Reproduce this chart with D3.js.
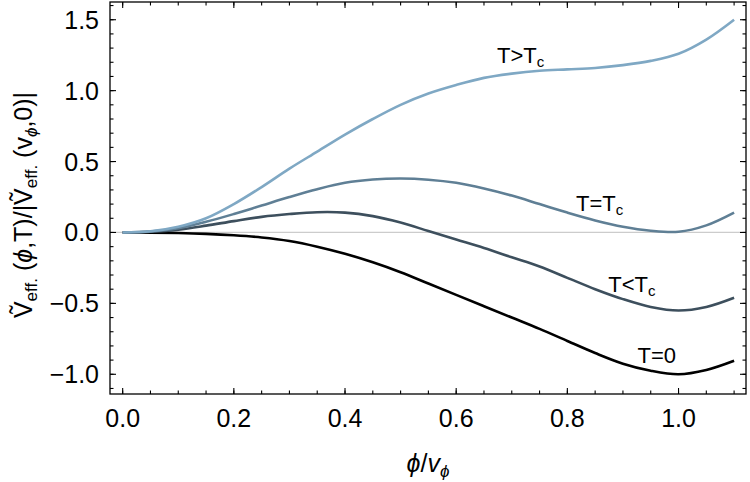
<!DOCTYPE html>
<html>
<head>
<meta charset="utf-8">
<script src="https://cdn.jsdelivr.net/npm/d3@7"></script>
<style>
  body { margin: 0; background: #fff; }
  svg { font-family: "Liberation Sans", Arial, sans-serif; }
</style>
</head>
<body>
<svg id="chart" width="750" height="482"></svg>
<script>
// phi / v_phi sample positions
const phi = [0, 0.05, 0.1, 0.15, 0.2, 0.25, 0.3, 0.35, 0.4, 0.45, 0.5, 0.55, 0.6, 0.65, 0.7, 0.75, 0.8, 0.85, 0.9, 0.95, 1.0, 1.05, 1.1];

// normalised potential, one array per temperature
const vHot  = [0, 0.008, 0.04, 0.10, 0.20, 0.32, 0.45, 0.57, 0.69, 0.80, 0.90, 0.98, 1.04, 1.09, 1.12, 1.14, 1.15, 1.16, 1.18, 1.21, 1.26, 1.36, 1.50];
const vCrit = [0, 0.007, 0.03, 0.075, 0.13, 0.19, 0.25, 0.305, 0.35, 0.373, 0.38, 0.372, 0.35, 0.31, 0.26, 0.20, 0.14, 0.085, 0.04, 0.012, 0.005, 0.05, 0.14];
const vLow  = [0, 0.005, 0.02, 0.048, 0.08, 0.11, 0.13, 0.143, 0.14, 0.115, 0.07, 0.01, -0.05, -0.11, -0.175, -0.24, -0.32, -0.40, -0.47, -0.525, -0.55, -0.525, -0.46];
const vZero = [0, -0.001, -0.004, -0.01, -0.02, -0.035, -0.06, -0.10, -0.15, -0.21, -0.28, -0.36, -0.44, -0.52, -0.60, -0.68, -0.765, -0.85, -0.925, -0.975, -1.0, -0.97, -0.905];

const seriesNames = ["T>T", "T=T", "T<T", "T=0"];
const seriesColors = ["#7fa8c4", "#5f7f95", "#3d4f5d", "#000000"];
// label anchor points (phi, value) next to the curves
const labelPhi = [0.716, 0.858, 0.916, 0.961];
const labelVal = [1.194, 0.152, -0.42, -0.92];

const xTicks = [0, 0.2, 0.4, 0.6, 0.8, 1.0];
const yTicks = [-1.0, -0.5, 0, 0.5, 1.0, 1.5];

const svg = d3.select('#chart');
const W = 750, H = 482;
const m = {left: 110, right: 4, top: 2, bottom: 88};

const x = d3.scaleLinear().domain([-0.0228, 1.1214]).range([m.left, W - m.right]);
const y = d3.scaleLinear().domain([-1.139, 1.625]).range([H - m.bottom, m.top]);

// zero reference line
svg.append('line')
  .attr('x1', x.range()[0]).attr('x2', x.range()[1])
  .attr('y1', y(0)).attr('y2', y(0))
  .attr('stroke', '#cccccc').attr('stroke-width', 1.2);

const allSeries = [vHot, vCrit, vLow, vZero];
const line = d3.line()
  .x((d, i) => x(phi[i]))
  .y(d => y(d))
  .curve(d3.curveCatmullRom.alpha(0.5));

// draw dark first so the light curve sits on top near the origin
allSeries.slice().reverse().forEach((vals, k) => {
  let i = allSeries.length - 1 - k;
  svg.append('path')
    .attr('d', line(vals))
    .attr('fill', 'none')
    .attr('stroke', seriesColors[i])
    .attr('stroke-width', 2.6);
});

// curve labels
seriesNames.forEach((name, i) => {
  let t = svg.append('text')
    .attr('x', x(labelPhi[i]))
    .attr('y', y(labelVal[i]))
    .attr('text-anchor', 'middle')
    .attr('font-size', 22)
    .attr('fill', '#000');
  t.append('tspan').text(name);
  if (name !== 'T=0') {
    t.append('tspan').attr('font-size', 15).attr('dy', 4).text('c');
  }
});

// frame
svg.append('rect')
  .attr('x', m.left).attr('y', m.top)
  .attr('width', W - m.left - m.right).attr('height', H - m.top - m.bottom)
  .attr('fill', 'none').attr('stroke', '#000').attr('stroke-width', 1.3);

// inward ticks on all four sides
const xMinor = d3.range(0, 1.1001, 0.05);
const yMinor = d3.range(-1.1, 1.6001, 0.1);

function tickSet(sel, vals, major) {
  let len = major ? 6 : 3.5;
  vals.forEach(v => {
    sel.append('line').attr('x1', x(v)).attr('x2', x(v))
      .attr('y1', y.range()[0]).attr('y2', y.range()[0] - len);
    sel.append('line').attr('x1', x(v)).attr('x2', x(v))
      .attr('y1', y.range()[1]).attr('y2', y.range()[1] + len);
  });
}
function tickSetY(sel, vals, major) {
  let len = major ? 6 : 3.5;
  vals.forEach(v => {
    sel.append('line').attr('y1', y(v)).attr('y2', y(v))
      .attr('x1', x.range()[0]).attr('x2', x.range()[0] + len);
    sel.append('line').attr('y1', y(v)).attr('y2', y(v))
      .attr('x1', x.range()[1]).attr('x2', x.range()[1] - len);
  });
}
const ticks = svg.append('g').attr('stroke', '#000').attr('stroke-width', 1.1);
tickSet(ticks, xMinor, false);
tickSet(ticks, xTicks, true);
tickSetY(ticks, yMinor, false);
tickSetY(ticks, yTicks, true);

const fmt = d3.format('.1f');
svg.append('g').selectAll('text').data(xTicks).join('text')
  .attr('x', d => x(d)).attr('y', 427)
  .attr('text-anchor', 'middle').attr('font-size', 25)
  .text(d => fmt(d));

svg.append('g').selectAll('text').data(yTicks).join('text')
  .attr('x', 99).attr('y', d => y(d) + 9)
  .attr('text-anchor', 'end').attr('font-size', 25)
  .text(d => fmt(d).replace('-', '\u2212'));

// axis titles
let xt = svg.append('text').attr('x', 428).attr('y', 472)
  .attr('text-anchor', 'middle').attr('font-size', 25);
xt.append('tspan').attr('font-style', 'italic').text('\u03d5');
xt.append('tspan').text('/');
xt.append('tspan').attr('font-style', 'italic').text('v');
xt.append('tspan').attr('font-style', 'italic').attr('font-size', 17).attr('dy', 5).text('\u03d5');

let yt = svg.append('text')
  .attr('transform', 'translate(32,205) rotate(-90)')
  .attr('text-anchor', 'middle').attr('font-size', 25);
yt.append('tspan').text('\u1e7c');
yt.append('tspan').attr('font-size', 17).attr('dy', 5).text('eff.');
yt.append('tspan').attr('dy', -5).text(' (');
yt.append('tspan').attr('font-style', 'italic').text('\u03d5');
yt.append('tspan').text(',T)/|\u1e7c');
yt.append('tspan').attr('font-size', 17).attr('dy', 5).text('eff.');
yt.append('tspan').attr('dy', -5).text(' (v');
yt.append('tspan').attr('font-style', 'italic').attr('font-size', 17).attr('dy', 5).text('\u03d5');
yt.append('tspan').attr('dy', -5).text(',0)|');
</script>
</body>
</html>
